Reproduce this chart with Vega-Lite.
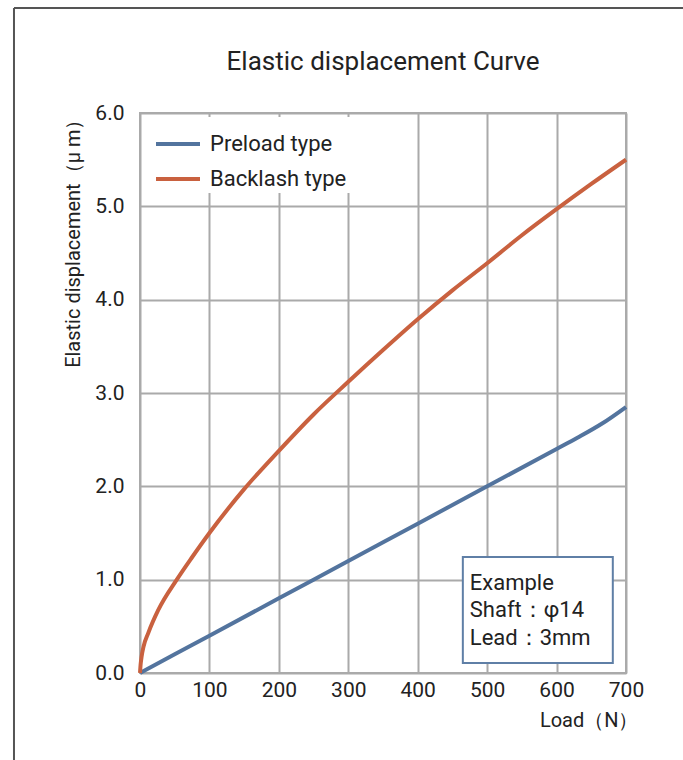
{
  "$schema": "https://vega.github.io/schema/vega-lite/v6.json",
  "width": 486,
  "height": 560,
  "autosize": {"type": "none"},
  "padding": {"left": 140, "top": 113, "right": 57, "bottom": 87},
  "background": "white",
  "config": {
    "font": "Roboto",
    "view": {"stroke": "#aaaaaa", "strokeWidth": 2},
    "axis": {
      "labelFont": "Roboto", "labelFontSize": 21, "labelColor": "#222222",
      "titleFont": "Roboto", "titleFontSize": 20, "titleFontWeight": "normal", "titleColor": "#222222",
      "gridColor": "#aaaaaa", "gridWidth": 2, "gridOpacity": 1,
      "domain": false, "ticks": false
    },
    "legend": {"labelFont": "Roboto", "labelFontSize": 22, "labelColor": "#222222"}
  },
  "title": {
    "text": "Elastic displacement Curve",
    "fontSize": 26, "font": "Roboto", "fontWeight": "normal", "color": "#222222",
    "anchor": "middle", "offset": -68
  },
  "datasets": {
    "curves": [
      {"load": 0, "disp": 0, "type": "Preload type"},
      {"load": 50, "disp": 0.2, "type": "Preload type"},
      {"load": 100, "disp": 0.4, "type": "Preload type"},
      {"load": 200, "disp": 0.8, "type": "Preload type"},
      {"load": 300, "disp": 1.2, "type": "Preload type"},
      {"load": 400, "disp": 1.6, "type": "Preload type"},
      {"load": 500, "disp": 2.0, "type": "Preload type"},
      {"load": 600, "disp": 2.4, "type": "Preload type"},
      {"load": 630, "disp": 2.52, "type": "Preload type"},
      {"load": 665, "disp": 2.67, "type": "Preload type"},
      {"load": 700, "disp": 2.85, "type": "Preload type"},
      {"load": 0, "disp": 0, "type": "Backlash type"},
      {"load": 1, "disp": 0.1, "type": "Backlash type"},
      {"load": 2.4, "disp": 0.18, "type": "Backlash type"},
      {"load": 5, "disp": 0.28, "type": "Backlash type"},
      {"load": 12, "disp": 0.43, "type": "Backlash type"},
      {"load": 26, "disp": 0.67, "type": "Backlash type"},
      {"load": 53, "disp": 1.0, "type": "Backlash type"},
      {"load": 75, "disp": 1.24, "type": "Backlash type"},
      {"load": 100, "disp": 1.5, "type": "Backlash type"},
      {"load": 150, "disp": 1.97, "type": "Backlash type"},
      {"load": 200, "disp": 2.38, "type": "Backlash type"},
      {"load": 250, "disp": 2.77, "type": "Backlash type"},
      {"load": 300, "disp": 3.12, "type": "Backlash type"},
      {"load": 350, "disp": 3.46, "type": "Backlash type"},
      {"load": 400, "disp": 3.79, "type": "Backlash type"},
      {"load": 450, "disp": 4.1, "type": "Backlash type"},
      {"load": 500, "disp": 4.39, "type": "Backlash type"},
      {"load": 550, "disp": 4.69, "type": "Backlash type"},
      {"load": 600, "disp": 4.97, "type": "Backlash type"},
      {"load": 650, "disp": 5.24, "type": "Backlash type"},
      {"load": 700, "disp": 5.5, "type": "Backlash type"}
    ],
    "frame": [
      {"x": -181.5, "y": 7.125, "x2": 950, "y2": 7.125},
      {"x": -181.5, "y": 7.125, "x2": -181.5, "y2": -1.5}
    ],
    "box": [
      {"x": 465, "x2": 681, "y": 1.243, "y2": 0.107}
    ],
    "notes": [
      {"x": 475, "y": 0.96, "label": "Example"},
      {"x": 475, "y": 0.68, "label": "Shaft：φ14"},
      {"x": 475, "y": 0.38, "label": "Lead：3mm"}
    ]
  },
  "layer": [
    {
      "data": {"name": "frame"},
      "mark": {"type": "rule", "color": "#555555", "strokeWidth": 2, "clip": false},
      "encoding": {
        "x": {"field": "x", "type": "quantitative", "scale": {"domain": [0, 700], "nice": false, "zero": false},
              "axis": {"values": [0, 100, 200, 300, 400, 500, 600, 700], "title": "Load（N）", "titleAnchor": "end", "titleAlign": "right", "titleX": 498, "titlePadding": 10, "labelPadding": 6, "labelFlush": false}},
        "x2": {"field": "x2"},
        "y": {"field": "y", "type": "quantitative", "scale": {"domain": [0, 6], "nice": false, "zero": false},
              "axis": {"values": [0, 1, 2, 3, 4, 5, 6], "format": ".1f", "title": "Elastic displacement（μ m）", "titleAnchor": null, "titleAlign": "right", "titleBaseline": "middle", "titleAngle": -90, "titleX": -67, "titleY": -4, "labelPadding": 16, "labelFlush": false}},
        "y2": {"field": "y2"}
      }
    },
    {
      "data": {"name": "curves"},
      "mark": {"type": "line", "strokeWidth": 4, "interpolate": "monotone"},
      "encoding": {
        "x": {"field": "load", "type": "quantitative"},
        "y": {"field": "disp", "type": "quantitative"},
        "color": {
          "field": "type", "type": "nominal",
          "scale": {"domain": ["Preload type", "Backlash type"], "range": ["#53749e", "#c9613f"]},
          "legend": {
            "title": null, "orient": "none", "legendX": 11, "legendY": 4, "padding": 3,
            "fillColor": "white", "symbolType": "stroke", "symbolSize": 1936,
            "symbolStrokeWidth": 4, "labelOffset": 8, "rowPadding": -14
          }
        }
      }
    },
    {
      "data": {"name": "box"},
      "mark": {"type": "rect", "fill": "white", "stroke": "#5f7fa6", "strokeWidth": 2},
      "encoding": {
        "x": {"field": "x", "type": "quantitative"},
        "x2": {"field": "x2"},
        "y": {"field": "y", "type": "quantitative"},
        "y2": {"field": "y2"}
      }
    },
    {
      "data": {"name": "notes"},
      "mark": {"type": "text", "align": "left", "baseline": "middle", "fontSize": 22, "font": "Roboto", "color": "#222222"},
      "encoding": {
        "x": {"field": "x", "type": "quantitative"},
        "y": {"field": "y", "type": "quantitative"},
        "text": {"field": "label"}
      }
    }
  ]
}
